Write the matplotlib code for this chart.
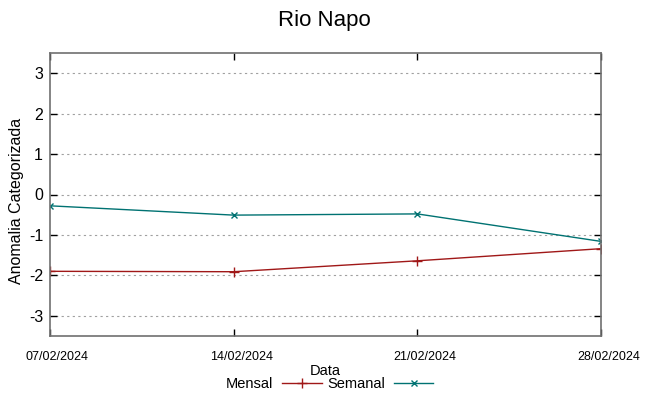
import matplotlib
matplotlib.use("Agg")
import matplotlib.pyplot as plt
from matplotlib.lines import Line2D
from matplotlib.transforms import ScaledTranslation
import numpy as np

dates = ["07/02/2024", "14/02/2024", "21/02/2024", "28/02/2024"]
days = [7, 14, 21, 28]
mensal = [-1.90, -1.91, -1.64, -1.34]
semanal = [-0.28, -0.51, -0.48, -1.16]
yticks = [-3, -2, -1, 0, 1, 2, 3]

plt.rcParams['font.family'] = ['Liberation Sans', 'DejaVu Sans']

fig = plt.figure(figsize=(6.49, 3.96), dpi=100)
ax = fig.add_axes([50/649, 60/396, 551/649, 283/396])

red = '#a01818'
teal = '#007272'
ax.plot(days, mensal, color=red, lw=1, marker='+', ms=7, mew=1)
ax.plot(days, semanal, color=teal, lw=1, marker='x', ms=5, mew=1)

ax.set_xlim(7, 28)
ax.set_ylim(-3.5, 3.5)
ax.set_xticks(days)
ax.set_xticklabels(dates, fontsize=9)
ax.set_yticks(yticks)
ax.set_yticklabels([str(v) for v in yticks], fontsize=11.5)
ax.tick_params(direction='in', top=True, right=True, length=5, width=1, color='black')
ax.tick_params(axis='x', pad=11)
ax.tick_params(axis='y', pad=5)
offset = ScaledTranslation(7.5 / 100, 0, fig.dpi_scale_trans)
for lab in ax.get_xticklabels():
    lab.set_transform(lab.get_transform() + offset)
ax.grid(True, axis='y', linestyle=(0, (2, 3)), color='#a0a0a0', lw=0.8)
for s in ax.spines.values():
    s.set_color('#707070')
    s.set_linewidth(1.2)

ax.set_ylabel("Anomalia Categorizada", fontsize=11.5)
ax.yaxis.set_label_coords(-0.047, 0.477)
ax.set_xlabel("Data", fontsize=10.5, labelpad=0)
ax.xaxis.set_label_coords(0.5, -0.10)
fig.text(0.5, 0.947, "Rio Napo", ha='center', va='center', fontsize=16)

handles = [Line2D([], [], color=red, lw=1, marker='+', ms=7),
           Line2D([], [], color=teal, lw=1, marker='x', ms=5)]
fig.legend(handles, ["Mensal", "Semanal"], loc='center', bbox_to_anchor=(0.508, 0.03),
           ncol=2, frameon=False, markerfirst=False, fontsize=10.5,
           handlelength=2.7, columnspacing=0.4, handletextpad=0.6)

fig.savefig("out.png", dpi=100)
